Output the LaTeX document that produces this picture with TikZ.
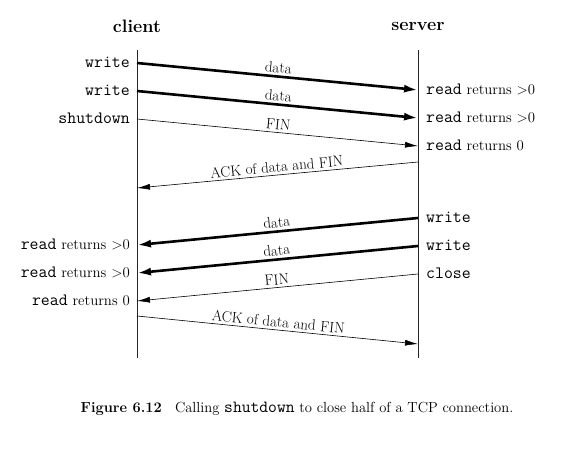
\documentclass[tikz,border=0pt]{standalone}
\usepackage{fontspec}
\setmonofont{Latin Modern Mono}[Scale=1.17]
\usepackage{tikz}
\usetikzlibrary{arrows.meta}
\tikzset{
  life/.style  = {draw=black!85, line width=0.8pt},
  msg/.style   = {-{Latex[length=13pt,width=6pt]}, line width=0.6pt},
  msgb/.style  = {-{Latex[length=14pt,width=8pt]}, line width=2.6pt},
  tag/.style   = {font=\fontsize{14.8}{17}\selectfont, inner sep=0pt},
  lbl/.style   = {font=\fontsize{15}{17}\selectfont, inner sep=2.5pt, midway, above, sloped},
  hdr/.style   = {font=\fontsize{18}{20}\selectfont\bfseries},
}

\begin{document}
\begin{tikzpicture}[x=1pt, y=-1pt]
  \useasboundingbox (0,0) rectangle (580,457);

  % the two ends
  \node[hdr] (client) at (137,26) {client};
  \node[hdr] (server) at (418,26) {server};
  \coordinate (ctop) at (137,50);
  \coordinate (cbot) at (137,358);
  \coordinate (stop) at (418,50);
  \coordinate (sbot) at (418,358);
  \draw[life] (ctop) -- (cbot);
  \draw[life] (stop) -- (sbot);

  % points on the client line
  \coordinate (c1) at (137,63);
  \coordinate (c2) at (137,91);
  \coordinate (c3) at (137,119);
  \coordinate (c4) at (137,188);
  \coordinate (c5) at (137,245);
  \coordinate (c6) at (137,273);
  \coordinate (c7) at (137,301);
  \coordinate (c8) at (137,316);

  % points on the server line
  \coordinate (s1) at (418,90);
  \coordinate (s2) at (418,118);
  \coordinate (s3) at (418,146);
  \coordinate (s4) at (418,162);
  \coordinate (s5) at (418,218);
  \coordinate (s6) at (418,246);
  \coordinate (s7) at (418,274);
  \coordinate (s8) at (418,344);

  % client side events
  \node[tag, anchor=east] (cw1) at (130,62) {\texttt{write}};
  \node[tag, anchor=east] (cw2) at (130,90) {\texttt{write}};
  \node[tag, anchor=east] (csd) at (130,118) {\texttt{shutdown}};
  \node[tag, anchor=east] (cr1) at (130,244) {\texttt{read} returns >0};
  \node[tag, anchor=east] (cr2) at (130,272) {\texttt{read} returns >0};
  \node[tag, anchor=east] (cr3) at (130,300) {\texttt{read} returns 0};

  % server side events
  \node[tag, anchor=west] (sr1) at (426,89) {\texttt{read} returns >0};
  \node[tag, anchor=west] (sr2) at (426,117) {\texttt{read} returns >0};
  \node[tag, anchor=west] (sr3) at (426,145) {\texttt{read} returns 0};
  \node[tag, anchor=west] (sw1) at (426,217) {\texttt{write}};
  \node[tag, anchor=west] (sw2) at (426,245) {\texttt{write}};
  \node[tag, anchor=west] (scl) at (426,273) {\texttt{close}};

  % segments
  \draw[msgb] (c1) -- node[lbl] {data} (s1);
  \draw[msgb] (c2) -- node[lbl] {data} (s2);
  \draw[msg]  (c3) -- node[lbl] {FIN} (s3);
  \draw[msg]  (s4) -- node[lbl] {ACK of data and FIN} (c4);
  \draw[msgb] (s5) -- node[lbl] {data} (c5);
  \draw[msgb] (s6) -- node[lbl] {data} (c6);
  \draw[msg]  (s7) -- node[lbl] {FIN} (c7);
  \draw[msg]  (c8) -- node[lbl] {ACK of data and FIN} (s8);

  \node[font=\fontsize{14.6}{17}\selectfont] (caption) at (297,409)
    {\textbf{Figure 6.12}\hspace{0.9em}Calling \texttt{shutdown} to close half of a TCP connection.};
\end{tikzpicture}
\end{document}
